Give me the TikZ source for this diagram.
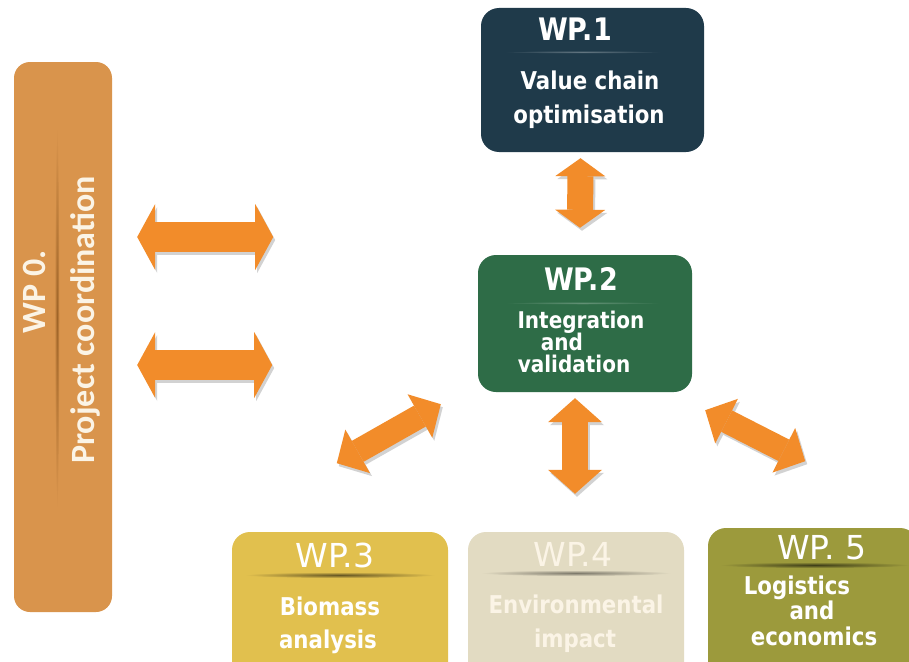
\documentclass[tikz,border=0pt]{standalone}
\usepackage{fontspec}
\setmainfont{DejaVu Sans}
\newfontfamily\narrowfont{DejaVu Sans}[FakeStretch=0.87]
\newfontfamily\coordfont{Carlito}
\usetikzlibrary{arrows.meta,calc}

\definecolor{wpzero}{HTML}{D9944C}
\definecolor{wpzeroline}{HTML}{9E6428}
\definecolor{wpone}{HTML}{1F3A4A}
\definecolor{wptwo}{HTML}{2E6C47}
\definecolor{wpthree}{HTML}{E1C04E}
\definecolor{wpfour}{HTML}{E2DBC2}
\definecolor{wpfive}{HTML}{9C9A3C}
\definecolor{arroworange}{HTML}{F28C2A}
\definecolor{textcream}{HTML}{FBF4E6}

\tikzset{
  wpbox/.style={rounded corners=18pt, inner sep=0pt, draw=none},
  wptitle/.style={font=\narrowfont\bfseries\fontsize{31}{33}\selectfont, text=white, inner sep=0pt, anchor=base},
  lowtitle/.style={font=\fontsize{33}{35}\selectfont, text=white, inner sep=0pt, anchor=base},
  wpline/.style={font=\narrowfont\bfseries\fontsize{24.5}{28}\selectfont, text=white, inner sep=0pt, anchor=base},
  tightline/.style={wpline, font=\narrowfont\bfseries\fontsize{23}{25}\selectfont},
  zerotext/.style={font=\coordfont\bfseries\fontsize{34}{36}\selectfont, text=textcream, inner sep=0pt, rotate=90},
}

% fat double-headed arrow: shaft width, head width, head length, from, to
\newcommand\wparrow[5]{%
  \draw[gray!35, line width=#1pt,
        {Triangle[width=#2pt,length=#3pt,line width=0pt]}-{Triangle[width=#2pt,length=#3pt,line width=0pt]},
        transform canvas={shift={(2pt,-3pt)}}] (#4) -- (#5);
  \draw[arroworange, line width=#1pt,
        {Triangle[width=#2pt,length=#3pt,line width=0pt]}-{Triangle[width=#2pt,length=#3pt,line width=0pt]}] (#4) -- (#5);
}

\begin{document}
\begin{tikzpicture}[x=1pt,y=-1pt]
\useasboundingbox (0,0) rectangle (909,661);
\clip (0,0) rectangle (909,661);
\fill[white] (0,0) rectangle (909,661);

% --- work package boxes
\node[wpbox, rounded corners=16pt, fill=wpzero, minimum width=98pt, minimum height=550pt] (wp0) at (63,337) {};
\shade[inner color=wpzeroline, outer color=wpzero] (57,318) ellipse (2.5 and 190);
\node[wpbox, fill=wpone, minimum width=223pt, minimum height=144pt] (wp1) at (592.5,80) {};
\node[wpbox, fill=wptwo, minimum width=214pt, minimum height=137pt] (wp2) at (585,323.5) {};
\node[wpbox, fill=wpthree, minimum width=216pt, minimum height=150pt] (wp3) at (340,607) {};
\node[wpbox, fill=wpfour, minimum width=216pt, minimum height=150pt] (wp4) at (576,607) {};
\node[wpbox, fill=wpfive, minimum width=210pt, minimum height=155pt] (wp5) at (813,605.5) {};

% soft rules under the titles
\shade[inner color=wpone!70!white, outer color=wpone] (583,52) ellipse (80 and 1.5);
\shade[inner color=wptwo!75!white, outer color=wptwo] (583,303) ellipse (80 and 1.5);
\shade[inner color=wpthree!45!black, outer color=wpthree] (340,575) ellipse (95 and 3);
\shade[inner color=wpfour!55!black, outer color=wpfour] (576,573) ellipse (95 and 3);
\shade[inner color=wpfive!40!black, outer color=wpfive] (815,565) ellipse (95 and 3);

% --- texts
\node[zerotext] (wp0a) at (34,292) {WP 0.};
\node[zerotext] (wp0b) at (85,320) {Project coordination};

\node[wptitle] (wp1t) at (575,41) {WP.1};
\node[wpline] (wp1a) at (590,89) {Value chain};
\node[wpline] (wp1b) at (589,123) {optimisation};

\node[wptitle] (wp2t) at (581,290) {WP.2};
\node[tightline] (wp2a) at (581,328) {Integration};
\node[tightline] (wp2b) at (562,350) {and};
\node[tightline] (wp2c) at (574,372) {validation};

\node[lowtitle] (wp3t) at (335,567) {WP.3};
\node[wpline] (wp3a) at (330,615) {Biomass};
\node[wpline] (wp3b) at (328,648) {analysis};

\node[lowtitle, text=textcream] (wp4t) at (573,566) {WP.4};
\node[wpline, text=textcream] (wp4a) at (576,613) {Environmental};
\node[wpline, text=textcream] (wp4b) at (575,647) {impact};

\node[lowtitle] (wp5t) at (822,559) {WP. 5};
\node[wpline] (wp5a) at (797,594) {Logistics};
\node[wpline] (wp5b) at (812,619) {and};
\node[wpline] (wp5c) at (814,645) {economics};

% --- connector end points
\coordinate (c1a) at ($(wp0.east)+(25,-100)$);
\coordinate (c1b) at ($(c1a)+(136,0)$);
\coordinate (c2a) at ($(wp0.east)+(25,28)$);
\coordinate (c2b) at ($(c2a)+(135,0)$);
\coordinate (c3a) at ($(wp2.south west)+(-141,71)$);
\coordinate (c3b) at ($(wp2.south west)+(-37,12)$);
\coordinate (c5a) at ($(wp2.south east)+(13,18)$);
\coordinate (c5b) at ($(wp2.south east)+(113,69)$);

% --- connectors
\wparrow{30}{66}{18}{c1a}{c1b}
\wparrow{30}{66}{18}{c2a}{c2b}
\wparrow{26}{50}{18}{$(wp1.south)+(-12,6)$}{$(wp2.north)+(-5,-27)$}
\wparrow{26}{54}{24}{$(wp2.south)+(-10,6)$}{$(wp4.north)+(-1,-38)$}
\wparrow{24}{50}{24}{c3a}{c3b}
\wparrow{24}{50}{24}{c5a}{c5b}
\end{tikzpicture}
\end{document}
